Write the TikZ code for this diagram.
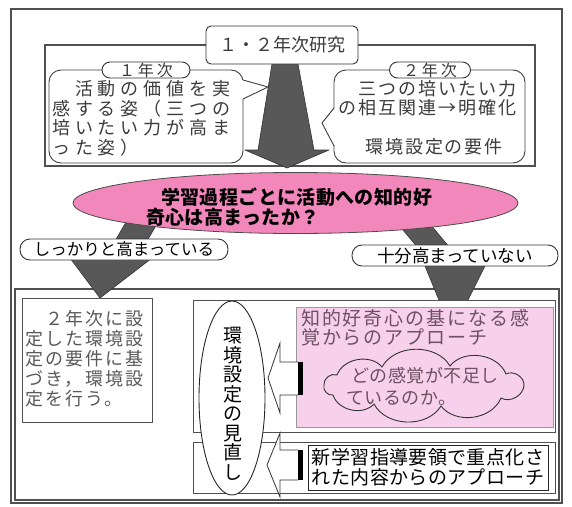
\documentclass[tikz,border=0pt]{standalone}
\usepackage{fontspec}
\newfontfamily\jp{Noto Sans CJK JP}
\usetikzlibrary{shapes.geometric}
\newcommand\lsp[1]{\addfontfeature{LetterSpace=#1}}
\newcommand\fsz[2]{\fontsize{#1}{#2}\selectfont}
\definecolor{pinkq}{RGB}{242,135,188}
\definecolor{pinkl}{RGB}{247,208,236}
\definecolor{agray}{RGB}{88,88,88}
\definecolor{framec}{RGB}{80,80,80}
\definecolor{txtg}{RGB}{60,60,60}
\definecolor{txtp}{RGB}{110,80,100}
\begin{document}
\begin{tikzpicture}[x=1pt,y=-1pt,
  frm/.style={draw=framec,line width=1.1pt},
  bub/.style={draw=black!75,fill=white,rounded corners=12pt,line width=0.9pt,inner sep=0pt},
  bubline/.style={draw=black!75,line width=0.9pt},
  txt/.style={inner sep=0pt,align=left,text=txtg},
  pill/.style={draw=black!80,fill=white,rounded corners=8pt,line width=0.9pt,inner sep=0pt},
  garrow/.style={fill=agray,draw=black!80,line width=0.6pt,line join=round},
  blk/.style={fill=white,draw=black!80,line width=0.8pt},
  boxw/.style={draw=framec,fill=white,line width=0.9pt,inner sep=0pt},
  cloudst/.style={draw=black!80,fill=pinkl,line width=0.9pt}]
\fill[white] (0,0) rectangle (572,506);
\useasboundingbox (0,0) rectangle (572,506);
% frames
\draw[frm] (11,9) rectangle (562,503);
\draw[frm] (45,45) rectangle (535,166);
% big arrow
\filldraw[garrow] (272,64) -- (298,64) -- (314,150) -- (329,150) -- (287,168) -- (245,150) -- (258,150) -- cycle;
% title
\node[pill,rounded corners=5pt,minimum width=152pt,minimum height=38pt,font=\jp\fsz{18}{20},text=txtg] (title) at (282,45) {１・２年次研究};
% left bubble
\node[bub,minimum width=194pt,minimum height=93pt] (lb) at (146,116.5) {};
\coordinate (lbtip) at (268,87);
\fill[white] (242,80) -- (lbtip) -- (242,99) -- cycle;
\draw[bubline] (243,80) -- (lbtip) -- (243,99);
\node[txt,anchor=north west,font=\jp\fsz{18}{19.7}\lsp{27}] (lbt) at (52,80) {　活動の価値を実\\感する姿（三つの\\培いたい力が高ま\\った姿）};
% right bubble
\node[bub,minimum width=191pt,minimum height=93pt] (rb) at (429.5,116.5) {};
\coordinate (rbtip) at (322,123);
\fill[white] (335,108) -- (rbtip) -- (335,146) -- cycle;
\draw[bubline] (334,108) -- (rbtip) -- (334,146);
\node[txt,anchor=north west,font=\jp\fsz{18}{19.7}\lsp{11}] (rbt) at (338,80) {　三つの培いたい力\\の相互関連→明確化};
\node[txt,font=\jp\fsz{18}{20}\lsp{11}] (rbt2) at (434,147) {環境設定の要件};
% year pills
\node[pill,minimum width=88pt,minimum height=16pt,font=\jp\fsz{16}{17}\lsp{18},text=txtg] (y1) at (146,70) {１年次};
\node[pill,minimum width=81pt,minimum height=16pt,font=\jp\fsz{16}{17}\lsp{18},text=txtg] (y2) at (430,70) {２年次};
% bottom frame
\draw[frm] (15,289) rectangle (559,500);
% side arrows
\filldraw[garrow] (132,212) -- (164,212) -- (137,258) -- (152,258) -- (100,298) -- (70,258) -- (105,258) -- cycle;
\filldraw[garrow] (388,212) -- (420,212) -- (465,266) -- (485,266) -- (452,332) -- (425,266) -- (433,266) -- cycle;
% question ellipse
\node[ellipse,draw=black!70,fill=pinkq,minimum width=445pt,minimum height=61pt,line width=0.8pt] (q) at (295.5,203) {};
\node[txt,anchor=north west,text=black,font=\jp\bfseries\fsz{19}{18}\lsp{2}] (qt) at (146,188) {\hspace*{15pt}学習過程ごとに活動への知的好\\奇心は高まったか？};
% answer pills
\node[pill,rounded corners=10pt,minimum width=208pt,minimum height=21pt,font=\jp\fsz{16.5}{18},text=black] (yes) at (124,249.5) {しっかりと高まっている};
\node[pill,rounded corners=10pt,minimum width=206pt,minimum height=21pt,font=\jp\fsz{17.5}{18},text=black] (no) at (455,255.5) {十分高まっていない};
% left box
\node[boxw,minimum width=130pt,minimum height=124pt] (b2) at (87,360) {};
\node[txt,anchor=north west,text=black!65,font=\jp\fsz{18}{20}\lsp{12}] (b2t) at (25,310) {　２年次に設\\定した環境設\\定の要件に基\\づき，環境設\\定を行う。};
% right upper box
\node[boxw,minimum width=362pt,minimum height=132pt] (ub) at (374,366) {};
\node[fill=pinkl,draw=black!40,line width=0.5pt,minimum width=257pt,minimum height=120pt,inner sep=0pt] (pk) at (424.5,367) {};
\node[txt,anchor=north west,text=txtp,font=\jp\fsz{19}{19}\lsp{10}] (pkt) at (301,309.5) {知的好奇心の基になる感\\覚からのアプローチ};
% cloud
\draw[cloudst] (524,385) to[bend left=60] (501,398) to[bend left=60] (441,406)
  to[bend left=60] (374,404) to[bend left=60] (333,395) to[bend left=60] (324,385)
  to[bend left=60] (337,375) to[bend left=60] (382,367) to[bend left=60] (450,366)
  to[bend left=60] (506,374) to[bend left=60] (524,385) -- cycle;
\node[txt,anchor=north west,text=txtp,font=\jp\fsz{18}{22}\lsp{3}] (clt) at (346,367) {\hspace*{5pt}どの感覚が不足し\\ているのか。};
% right lower box
\node[boxw,minimum width=362pt,minimum height=51pt] (lowb) at (374,467.5) {};
\node[draw=black!85,fill=white,line width=0.9pt,minimum width=240pt,minimum height=45pt,inner sep=0pt,align=left,font=\jp\fsz{19}{20}\lsp{2}] (lt) at (428,467.5) {新学習指導要領で重点化さ\\れた内容からのアプローチ};
% vertical ellipse
\node[ellipse,draw=black!85,fill=white,line width=0.9pt,minimum width=66pt,minimum height=194pt,inner sep=0pt] (ve) at (232,398) {};
\node[inner sep=0pt,align=center,font=\jp\fsz{19}{19.5}] (vet) at (233,404) {環\\境\\設\\定\\の\\見\\直\\し};
% block arrows
\filldraw[blk] (298,362) -- (280,362) -- (280,343) -- (268,378) -- (280,413) -- (280,395) -- (298,395);
\fill[black] (298,362) rectangle (303,395);
\filldraw[blk] (298,450) -- (280,450) -- (280,433) -- (267,465) -- (280,497) -- (280,480) -- (298,480);
\fill[black] (298,450) rectangle (303,480);
\end{tikzpicture}
\end{document}
